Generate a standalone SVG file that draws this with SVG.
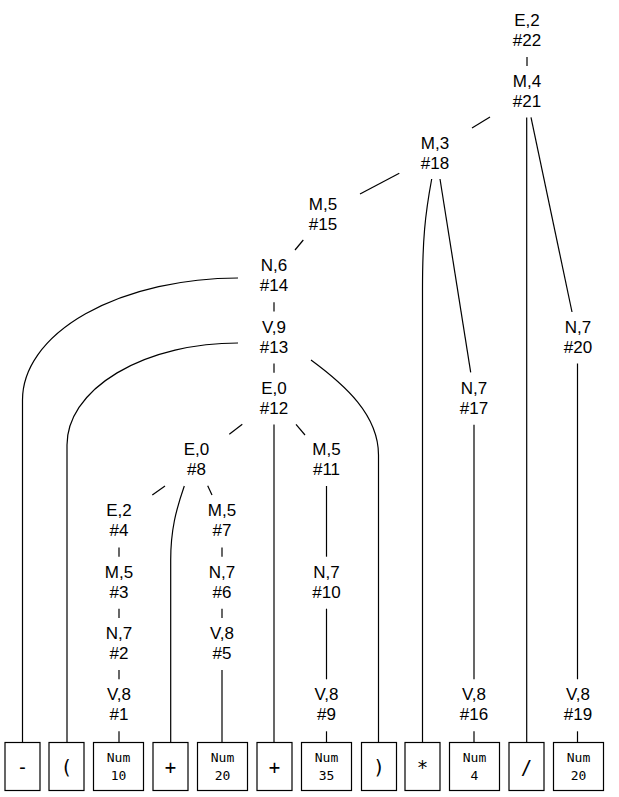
<svg xmlns="http://www.w3.org/2000/svg" width="619" height="797" viewBox="0 0 619 797">
<style>
  .lbl { font-family: "Liberation Sans", Arial, sans-serif; font-size: 17px; fill: #000; text-anchor: middle; }
  .tok { font-family: "DejaVu Sans Mono", monospace; font-size: 19px; fill: #000; text-anchor: middle; }
  .num { font-family: "DejaVu Sans Mono", monospace; font-size: 13px; fill: #000; text-anchor: middle; }
  .box { fill: #fff; stroke: #000; stroke-width: 1.2; }
  .edge { fill: none; stroke: #000; stroke-width: 1.2; }
</style>
<rect x="0" y="0" width="619" height="797" fill="#fff"/>
<g id="connectors">
  <path class="edge" d="M527,57 L527,66"/>
  <path class="edge" d="M490,117 L472,128"/>
  <path class="edge" d="M526.7,117.5 L526.7,742"/>
  <path class="edge" d="M531,117.3 L572,312"/>
  <path class="edge" d="M399.3,173.3 L360,194"/>
  <path class="edge" d="M431.7,179 C425,215 422.5,240 422.5,290 L422.5,742"/>
  <path class="edge" d="M440,179 L470.7,372.3"/>
  <path class="edge" d="M303.3,240 L295,250"/>
  <path class="edge" d="M274,302.2 L274,311.5"/>
  <path class="edge" d="M238,278 A216,122 0 0 0 22.5,400 L22.5,742"/>
  <path class="edge" d="M238,343 A171,102 0 0 0 67,445 L67,742"/>
  <path class="edge" d="M311,360 C345,385 378.5,415 378.5,455 L378.5,742"/>
  <path class="edge" d="M274,363.5 L274,372.8"/>
  <path class="edge" d="M274,424.5 L274,742"/>
  <path class="edge" d="M242.3,424.3 L229.3,434.3"/>
  <path class="edge" d="M296,424.3 L305,435"/>
  <path class="edge" d="M165,486 L152.3,495"/>
  <path class="edge" d="M207.7,485.7 L212,495"/>
  <path class="edge" d="M184.3,486 C176,510 170.7,530 170.7,560 L170.7,742"/>
  <path class="edge" d="M119,547.4 L119,556.7"/>
  <path class="edge" d="M119,608.7 L119,618"/>
  <path class="edge" d="M119,670 L119,679.3"/>
  <path class="edge" d="M119,731.3 L119,742"/>
  <path class="edge" d="M222,547.4 L222,556.7"/>
  <path class="edge" d="M222,608.7 L222,618"/>
  <path class="edge" d="M222,670 L222,742"/>
  <path class="edge" d="M326.5,486 L326.5,556.7"/>
  <path class="edge" d="M326.5,608.7 L326.5,679.3"/>
  <path class="edge" d="M326.5,731.3 L326.5,742"/>
  <path class="edge" d="M474,424.8 L474,679.3"/>
  <path class="edge" d="M474,731.3 L474,742"/>
  <path class="edge" d="M577.5,363.5 L577.5,679.3"/>
  <path class="edge" d="M577.5,731.3 L577.5,742"/>
</g>
<g id="n22"><text class="lbl" x="527" y="26">E,2</text><text class="lbl" x="527" y="46">#22</text></g>
<g id="n21"><text class="lbl" x="527" y="87.3">M,4</text><text class="lbl" x="527" y="107.3">#21</text></g>
<g id="n18"><text class="lbl" x="435" y="148.6">M,3</text><text class="lbl" x="435" y="168.6">#18</text></g>
<g id="n15"><text class="lbl" x="323" y="209.9">M,5</text><text class="lbl" x="323" y="229.9">#15</text></g>
<g id="n14"><text class="lbl" x="274" y="271.2">N,6</text><text class="lbl" x="274" y="291.2">#14</text></g>
<g id="n13"><text class="lbl" x="274" y="332.5">V,9</text><text class="lbl" x="274" y="352.5">#13</text></g>
<g id="n20"><text class="lbl" x="578" y="332.5">N,7</text><text class="lbl" x="578" y="352.5">#20</text></g>
<g id="n12"><text class="lbl" x="274" y="393.8">E,0</text><text class="lbl" x="274" y="413.8">#12</text></g>
<g id="n17"><text class="lbl" x="474" y="393.8">N,7</text><text class="lbl" x="474" y="413.8">#17</text></g>
<g id="n8"><text class="lbl" x="196.5" y="455.1">E,0</text><text class="lbl" x="196.5" y="475.1">#8</text></g>
<g id="n11"><text class="lbl" x="326.5" y="455.1">M,5</text><text class="lbl" x="326.5" y="475.1">#11</text></g>
<g id="n4"><text class="lbl" x="119" y="516.4">E,2</text><text class="lbl" x="119" y="536.4">#4</text></g>
<g id="n7"><text class="lbl" x="222" y="516.4">M,5</text><text class="lbl" x="222" y="536.4">#7</text></g>
<g id="n3"><text class="lbl" x="119" y="577.7">M,5</text><text class="lbl" x="119" y="597.7">#3</text></g>
<g id="n6"><text class="lbl" x="222" y="577.7">N,7</text><text class="lbl" x="222" y="597.7">#6</text></g>
<g id="n10"><text class="lbl" x="326.5" y="577.7">N,7</text><text class="lbl" x="326.5" y="597.7">#10</text></g>
<g id="n2"><text class="lbl" x="119" y="639">N,7</text><text class="lbl" x="119" y="659">#2</text></g>
<g id="n5"><text class="lbl" x="222" y="639">V,8</text><text class="lbl" x="222" y="659">#5</text></g>
<g id="n1"><text class="lbl" x="119" y="700.3">V,8</text><text class="lbl" x="119" y="720.3">#1</text></g>
<g id="n9"><text class="lbl" x="326.5" y="700.3">V,8</text><text class="lbl" x="326.5" y="720.3">#9</text></g>
<g id="n16"><text class="lbl" x="474" y="700.3">V,8</text><text class="lbl" x="474" y="720.3">#16</text></g>
<g id="n19"><text class="lbl" x="578" y="700.3">V,8</text><text class="lbl" x="578" y="720.3">#19</text></g>
<g id="t1"><rect class="box" x="5" y="742.5" width="35" height="48"/><text class="tok" x="22.5" y="774">-</text></g>
<g id="t2"><rect class="box" x="49" y="742.5" width="35" height="48"/><text class="tok" x="66.5" y="774">(</text></g>
<g id="t3"><rect class="box" x="93.5" y="742.5" width="50" height="48"/><text class="num" x="118.5" y="762">Num</text><text class="num" x="118.5" y="779.5">10</text></g>
<g id="t4"><rect class="box" x="153" y="742.5" width="35" height="48"/><text class="tok" x="170.5" y="774">+</text></g>
<g id="t5"><rect class="box" x="197.5" y="742.5" width="50" height="48"/><text class="num" x="222.5" y="762">Num</text><text class="num" x="222.5" y="779.5">20</text></g>
<g id="t6"><rect class="box" x="257" y="742.5" width="35" height="48"/><text class="tok" x="274.5" y="774">+</text></g>
<g id="t7"><rect class="box" x="301.5" y="742.5" width="50" height="48"/><text class="num" x="326.5" y="762">Num</text><text class="num" x="326.5" y="779.5">35</text></g>
<g id="t8"><rect class="box" x="361.5" y="742.5" width="35" height="48"/><text class="tok" x="379" y="774">)</text></g>
<g id="t9"><rect class="box" x="405" y="742.5" width="35" height="48"/><text class="tok" x="422.5" y="774">*</text></g>
<g id="t10"><rect class="box" x="449.5" y="742.5" width="50" height="48"/><text class="num" x="474.5" y="762">Num</text><text class="num" x="474.5" y="779.5">4</text></g>
<g id="t11"><rect class="box" x="509" y="742.5" width="35" height="48"/><text class="tok" x="526.5" y="774">/</text></g>
<g id="t12"><rect class="box" x="553.5" y="742.5" width="50" height="48"/><text class="num" x="578.5" y="762">Num</text><text class="num" x="578.5" y="779.5">20</text></g>
</svg>
